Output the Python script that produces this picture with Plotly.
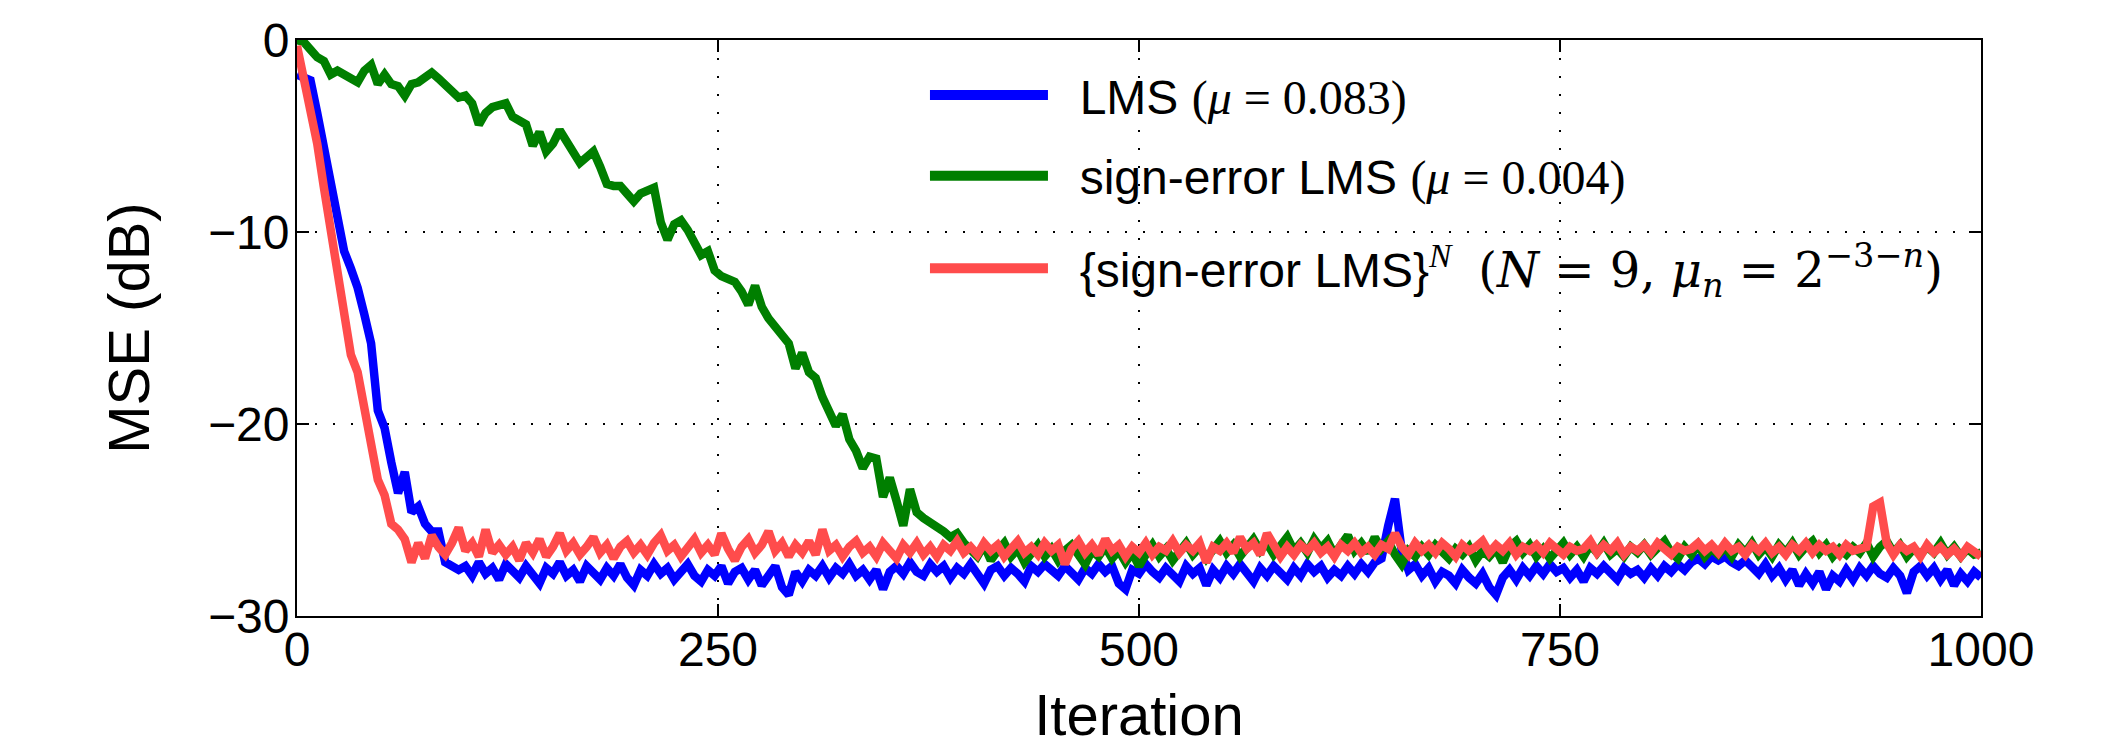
import plotly.graph_objects as go

iterations = list(range(0, 1001, 4))

lms = [
    -1.8, -2.0, -2.1, -3.8, -5.6, -7.3, -9.2, -11.0, -11.9, -12.9,
    -14.3, -15.8, -19.3, -20.2, -22.0, -23.6, -22.5, -24.6, -24.3, -25.2,
    -25.6, -25.6, -27.2, -27.4, -27.6,
    -27.4, -27.9, -27.2, -27.8, -27.5, -28.1, -27.3, -27.7, -28.0, -27.4,
    -27.9, -28.3, -27.5, -27.8, -27.2, -27.9, -27.6, -28.2, -27.4, -27.8,
    -28.1, -27.5, -27.9, -27.3, -28.0, -28.4, -27.6, -27.9, -27.3, -27.8,
    -27.5, -28.1, -27.7, -27.3, -27.9, -28.2, -27.6, -27.9, -27.4, -28.3,
    -27.7, -27.5, -28.1, -27.6, -28.4, -27.8, -27.4, -28.5, -28.9, -27.7,
    -28.2, -27.6, -27.9, -27.4, -28.0, -27.5, -27.8, -27.3, -27.9, -27.6,
    -28.1, -27.6, -28.6, -27.7, -27.4, -27.8, -27.2, -27.7, -27.9, -27.3,
    -27.7, -27.4, -28.0, -27.5, -27.8, -27.3, -27.9, -28.3, -27.6, -27.4,
    -27.9, -27.5, -27.8, -28.2, -27.4, -27.7, -27.3, -27.6, -27.9, -27.4,
    -27.7, -28.1, -27.5, -27.8, -27.3, -27.7, -27.4, -28.3, -28.6, -27.6,
    -27.8, -27.3, -27.7, -28.0, -27.5, -27.9, -28.2, -27.4, -27.8, -27.5,
    -28.4, -27.6, -28.0, -27.4, -27.8, -27.3, -27.7, -28.2, -27.5, -27.9,
    -27.4, -27.8, -28.1, -27.5, -27.9, -27.3, -27.7, -27.4, -28.0, -27.6,
    -27.9, -27.4, -27.8, -27.3, -27.7, -27.2, -27.0, -25.3, -23.9, -26.6,
    -27.6, -27.3, -27.9, -27.5, -28.2, -27.7, -27.9, -28.3, -27.6, -28.0,
    -28.3, -27.8, -28.5, -28.9, -28.0, -27.6, -28.1, -27.5, -27.9, -27.4,
    -27.8, -27.3, -27.7, -27.5, -28.0, -27.6, -28.2, -27.5, -27.8, -27.4,
    -27.7, -28.1, -27.5, -27.8, -27.6, -28.0, -27.5, -27.9, -27.4, -27.7,
    -27.3, -27.6, -27.2, -27.0, -27.3, -26.9, -27.1, -26.9, -27.2, -27.4,
    -27.1, -27.5, -27.8, -27.3, -27.9, -27.5, -28.1, -27.6, -28.4, -27.8,
    -28.3, -27.7, -28.6, -27.9, -28.2, -27.6, -28.1, -27.5, -27.9, -27.4,
    -27.8, -28.0, -27.5, -27.9, -28.8, -27.7, -27.4, -27.9, -27.5, -28.1,
    -27.6, -28.4, -27.8, -28.2, -27.7, -28.0,
]

sign_error = [
    0.0, -0.1, -0.5, -0.9, -1.1, -1.8, -1.6, -1.8, -2.0, -2.2,
    -1.6, -1.3, -2.3, -1.8, -2.3, -2.4, -2.9, -2.3, -2.2, -2.0,
    -1.7, -2.0, -2.3, -2.6, -3.0,
    -2.9, -3.3, -4.4, -3.8, -3.5, -3.4, -3.3, -4.0, -4.2, -4.4,
    -5.5, -4.8, -5.8, -5.4, -4.7, -5.3, -6.0, -6.4, -6.1, -5.8,
    -6.6, -7.5, -7.6, -7.6, -8.0, -8.4, -8.0, -7.8, -7.7, -9.5,
    -10.4, -9.6, -9.4, -9.9, -10.6, -11.2, -11.0, -12.0, -12.3, -12.4,
    -12.6, -13.1, -13.8, -12.8, -13.9, -14.5, -14.9, -15.3, -15.8, -17.1,
    -16.3, -17.3, -17.6, -18.6, -19.4, -20.1, -19.5, -20.8, -21.4, -22.3,
    -21.7, -21.8, -23.8, -22.8, -24.0, -25.3, -23.4, -24.6, -24.9, -25.1,
    -25.3, -25.6, -25.9, -25.7, -26.2,
    -26.5, -26.9, -26.3, -27.1, -26.6, -26.2, -26.9, -26.5, -27.2, -26.7,
    -26.3, -26.9, -26.5, -27.1, -26.6, -26.3, -26.9, -27.3, -26.6, -26.9,
    -26.4, -27.0, -26.6, -27.2, -26.7, -27.4, -26.8, -26.3, -26.9, -26.5,
    -27.1, -26.6, -26.2, -26.8, -26.4, -27.0, -26.6, -26.1, -26.7, -26.3,
    -26.9, -26.5, -26.0, -26.6, -26.2, -26.8, -26.3, -25.9, -26.6, -26.2,
    -26.7, -26.0, -26.5, -26.1, -26.8, -26.3, -25.8, -26.6, -26.2, -26.7,
    -25.9, -26.5, -26.1, -26.8, -27.3, -26.6, -26.9, -26.4, -26.8, -26.3,
    -26.7, -27.0, -26.5, -26.8, -26.4, -27.1, -26.6, -26.9, -26.5, -27.2,
    -26.4, -26.1, -26.7, -26.3, -26.9, -26.5, -27.0, -26.6, -26.2, -26.8,
    -26.4, -26.9, -26.3, -26.7, -26.2, -26.8, -26.5, -26.9, -26.4, -26.7,
    -26.3, -26.8, -26.5, -26.1, -26.7, -27.0, -26.4, -26.8, -26.3, -26.9,
    -26.5, -26.8, -26.4, -26.9, -26.3, -26.7, -26.2, -26.8, -26.4, -26.9,
    -26.3, -26.7, -26.2, -26.8, -26.4, -26.1, -26.7, -26.3, -26.9, -26.5,
    -26.8, -26.4, -26.7, -26.2, -26.9, -26.4, -26.1, -26.7, -26.3, -26.9,
    -26.5, -26.8, -26.4, -26.7, -26.2, -26.8, -26.4, -26.9, -26.5, -26.8,
    -26.7,
]

cascade = [
    -0.3, -1.9, -3.3, -5.4, -7.7, -10.0, -12.1, -14.1, -16.4, -17.3,
    -19.3, -21.0, -22.9, -23.7, -25.2, -25.5, -26.0, -27.2, -26.2, -27.0,
    -25.8, -26.4, -26.8, -26.2, -25.4,
    -26.6, -26.2, -26.9, -25.5, -26.7, -26.3, -26.8, -26.4, -27.1, -26.2,
    -26.7, -26.0, -26.9, -26.4, -25.7, -26.6, -26.2, -26.8, -26.4, -25.9,
    -26.7, -26.3, -27.0, -26.4, -26.1, -26.7, -26.3, -26.8, -26.2, -25.8,
    -26.6, -26.3, -26.9, -26.4, -26.0, -26.7, -26.3, -26.8, -25.7, -26.5,
    -27.1, -26.4, -26.0, -26.7, -26.3, -25.6, -26.6, -26.2, -26.9, -26.3,
    -26.7, -26.1, -26.8, -25.5, -26.6, -26.3, -26.9, -26.4, -26.1, -26.7,
    -26.4, -26.9, -26.2, -26.6, -27.0, -26.3, -26.7, -26.2, -26.8, -26.4,
    -26.9, -26.3, -26.6, -26.1, -26.7, -26.4, -26.8, -26.2, -26.6, -26.3,
    -26.9, -26.5, -26.1, -26.7, -26.4, -26.8, -26.2, -26.6, -26.3, -27.3,
    -26.5, -26.1, -26.7, -26.3, -26.8, -26.0, -26.6, -26.3, -26.9, -26.4,
    -26.7, -26.2, -26.8, -26.4, -26.6, -26.1, -26.7, -26.3, -26.6, -26.2,
    -27.2, -26.4, -26.6, -26.2, -26.7, -25.9, -26.5, -26.2, -26.8, -25.7,
    -26.3, -26.9, -26.4, -26.8, -26.3, -26.6, -26.2, -26.7, -26.4, -26.9,
    -26.3, -26.6, -26.2, -26.7, -26.4, -26.8, -26.3, -26.5, -25.7, -26.4,
    -26.8, -26.2, -26.6, -26.3, -26.7, -26.2, -26.5, -26.9, -26.3, -26.6,
    -26.4, -26.1, -26.7, -26.3, -26.6, -26.2, -26.8, -26.4, -26.6, -26.3,
    -26.7, -26.2, -26.5, -26.8, -26.4, -26.6, -26.5, -26.1, -26.7, -26.3,
    -26.6, -26.2, -26.8, -26.4, -26.6, -26.3, -26.7, -26.2, -26.5, -26.8,
    -26.4, -26.6, -26.5, -26.2, -26.6, -26.3, -26.7, -26.2, -26.6, -26.4,
    -26.8, -26.3, -26.6, -26.2, -26.7, -26.4, -26.8, -26.3, -26.6, -26.2,
    -26.7, -26.3, -26.6, -26.4, -26.8, -26.3, -26.6, -26.5, -26.4, -24.3,
    -24.1, -26.2, -26.8, -26.3, -26.6, -26.4, -26.9, -26.3, -26.7, -26.4,
    -26.8, -26.5, -26.9, -26.4, -26.7, -26.9,
]

x_ticks = [0, 250, 500, 750, 1000]
y_ticks = [-30, -20, -10, 0]

SERIF = "Liberation Serif"
SERIF_WIDE = "DejaVu Serif"
NB = "\u00a0"
LEAD = NB * 2
series_names = [
    LEAD + 'LMS <span style="font-family:%s">(<i>μ</i>%s=%s0.083)</span>' % (SERIF, NB, NB),
    LEAD + 'sign-error LMS <span style="font-family:%s">(<i>μ</i>%s=%s0.004)</span>' % (SERIF, NB, NB),
    LEAD + '{sign-error LMS}<sup><span style="font-family:%s"><i>N</i></span></sup>%s'
    '<span style="font-family:%s">(<i>N</i>%s=%s9,%s<i>μ<sub>n</sub></i>%s=%s2<sup>−3−<i>n</i></sup>)</span>'
    % (SERIF, NB * 2, SERIF_WIDE, NB, NB, NB, NB, NB),
]
series_values = [lms, sign_error, cascade]
colors = ["#0000ff", "#007f00", "#ff4c4c"]
legend_ids = ["legend", "legend2", "legend3"]

fig = go.Figure()
for vals, col in zip(series_values, colors):
    fig.add_trace(go.Scatter(x=iterations[:len(vals)], y=vals, mode="lines",
                             line=dict(color=col, width=8.5), showlegend=False,
                             hoverinfo="skip"))
for name, col, lg in zip(series_names, colors, legend_ids):
    fig.add_trace(go.Scatter(x=[None], y=[None], mode="lines", name=name,
                             legend=lg, line=dict(color=col, width=14)))

axis_common = dict(
    showline=True, linecolor="black", linewidth=2, mirror="ticks",
    ticks="inside", ticklen=12, tickwidth=1.5, tickcolor="black",
    showgrid=True, gridcolor="black", gridwidth=1.5, griddash="2px,16px",
    zeroline=False, tickfont=dict(family="Liberation Sans", size=48, color="black"),
)

legend_common = dict(x=0.3729, xanchor="left", yanchor="middle",
                     bgcolor="rgba(0,0,0,0)",
                     font=dict(size=48, family="Liberation Sans", color="black"),
                     itemwidth=118)

fig.update_layout(
    width=2123, height=747,
    margin=dict(l=297, r=142, t=40, b=131),
    plot_bgcolor="white", paper_bgcolor="white",
    font=dict(family="Liberation Sans", color="black"),
    xaxis=dict(range=[0, 1000], tickvals=x_ticks, ticklabelstandoff=-10,
               title=dict(text="Iteration", font=dict(size=58), standoff=20),
               **axis_common),
    yaxis=dict(range=[-30, 0], tickvals=y_ticks, ticklabelstandoff=-4,
               title=dict(text="MSE (dB)", font=dict(size=58), standoff=40),
               **axis_common),
    legend=dict(y=0.904, **legend_common),
    legend2=dict(y=0.764, **legend_common),
    legend3=dict(y=0.603, **legend_common),
)

fig.write_html("out.html")
